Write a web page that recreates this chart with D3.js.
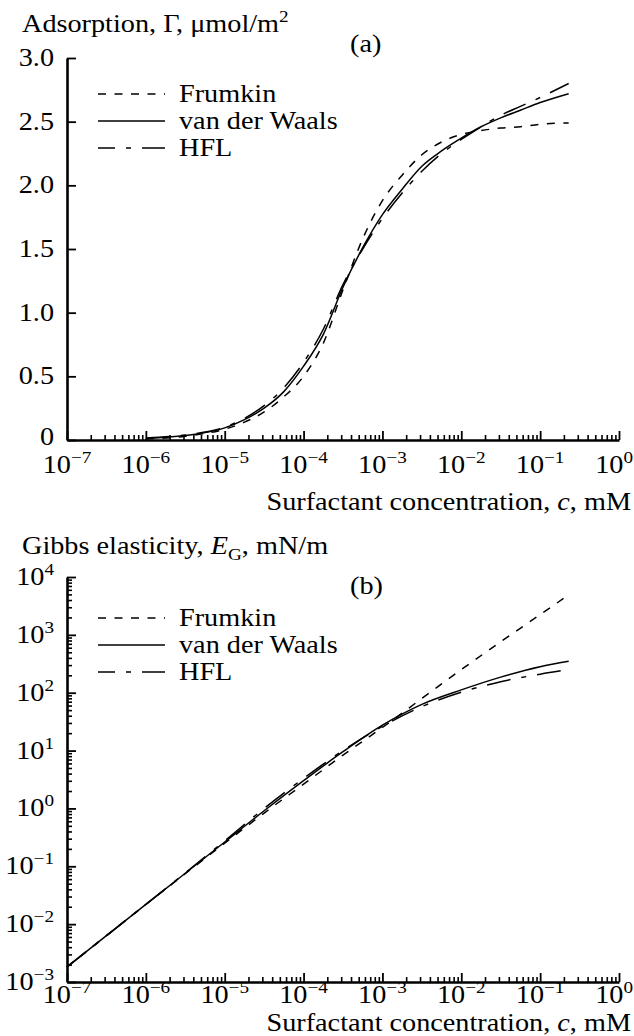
<!DOCTYPE html>
<html>
<head>
<meta charset="utf-8">
<script src="https://cdn.jsdelivr.net/npm/d3@7"></script>
<style>
  body { margin: 0; background: #fff; }
  svg { display: block; }
  text { font-family: "Liberation Serif", "Times New Roman", serif; fill: #000; }
</style>
</head>
<body>
<svg id="chart" width="634" height="1036"></svg>
<script>
// ---- Panel (a): adsorption isotherms ----
const concA = [1e-6, 3.16e-6, 1e-5, 1.78e-5, 3.16e-5, 5.62e-5, 1e-4, 1.78e-4, 3.16e-4, 5.62e-4,
               1e-3, 1.78e-3, 3.16e-3, 5.62e-3, 1e-2, 1.78e-2, 3.16e-2, 5.62e-2, 0.1, 0.23];
const gammaFrumkin = [0.008, 0.03, 0.085, 0.14, 0.22, 0.34, 0.50, 0.76, 1.18, 1.58,
                      1.88, 2.08, 2.24, 2.34, 2.40, 2.43, 2.45, 2.46, 2.48, 2.49];
const gammaVdW     = [0.012, 0.035, 0.095, 0.16, 0.25, 0.38, 0.58, 0.83, 1.20, 1.51,
                      1.77, 1.97, 2.15, 2.27, 2.37, 2.46, 2.53, 2.59, 2.65, 2.72];
const gammaHFL     = [0.015, 0.04, 0.10, 0.17, 0.27, 0.41, 0.61, 0.87, 1.22, 1.50,
                      1.74, 1.94, 2.11, 2.25, 2.36, 2.46, 2.55, 2.62, 2.69, 2.80];
const gammaTicks = [0, 0.5, 1, 1.5, 2, 2.5, 3];
const gammaTickLabels = ["0", "0.5", "1.0", "1.5", "2.0", "2.5", "3.0"];

// ---- Panel (b): Gibbs elasticity ----
const concB = [1e-7, 1e-6, 1e-5, 3.16e-5, 1e-4, 3.16e-4, 1e-3, 3.16e-3, 1e-2, 3.16e-2, 0.1, 0.23];
const elastFrumkin = [1.82e-3, 0.0219, 0.251, 0.832, 2.63, 8.32, 25.1, 79.4, 251, 759, 2240, 4900];
const elastVdW     = [1.82e-3, 0.0219, 0.263, 0.912, 3.02, 9.55, 27.5, 63, 112, 186, 282, 350];
const elastHFL     = [1.82e-3, 0.0219, 0.275, 1.0, 3.31, 10, 26.3, 57.5, 102, 155, 209, 251];

// shared axis data
const concExponents = [-7, -6, -5, -4, -3, -2, -1, 0];
const elastExponents = [-3, -2, -1, 0, 1, 2, 3, 4];
const seriesNames = ["Frumkin", "van der Waals", "HFL"];
const seriesDash = ["8,8.5", null, "24,11,5,11"];
const legendDashOffset = [0, 0, 7];

const svg = d3.select("#chart");
const FS = 25;     // font size
const SX = 1.13;   // horizontal widening of the serif face

// text placed inside a horizontally widened group
function addText(parent, x, y, anchor) {
  return parent.append("g")
    .attr("transform", `translate(${x},${y}) scale(${SX},1)`)
    .append("text")
    .attr("font-size", FS)
    .attr("text-anchor", anchor || "start");
}

function supLabel(sel, base, exp) {
  sel.append("tspan").text(base);
  sel.append("tspan").attr("dy", -10).attr("font-size", 17).text(exp);
}

function drawPanel(opt) {
  const g = svg.append("g");
  const x = d3.scaleLog().domain([1e-7, 1]).range([67, 619]);
  const y = opt.y;
  const y0 = y.range()[0];

  // x axis: decades and in-between minor ticks, pointing inward
  const xMinor = [];
  concExponents.slice(0, -1).forEach(e => { for (let k = 2; k <= 9; k++) xMinor.push(k * Math.pow(10, e)); });
  g.append("g").attr("transform", `translate(0,${y0})`)
    .call(d3.axisBottom(x).tickValues(xMinor).tickSize(-5).tickFormat(""))
    .call(a => a.select(".domain").remove())
    .call(a => a.selectAll("line").attr("stroke-width", 1.6));
  g.append("g").attr("transform", `translate(0,${y0})`)
    .call(d3.axisBottom(x).tickValues(concExponents.map(e => Math.pow(10, e))).tickSize(-9).tickSizeOuter(0).tickFormat(""))
    .call(a => a.select(".domain").attr("stroke-width", 2.6))
    .call(a => a.selectAll("line").attr("stroke-width", 1.8));

  // y axis
  if (opt.yMinor) {
    g.append("g").attr("transform", "translate(67,0)")
      .call(d3.axisLeft(y).tickValues(opt.yMinor).tickSize(-5).tickFormat(""))
      .call(a => a.select(".domain").remove())
      .call(a => a.selectAll("line").attr("stroke-width", 1.6));
  }
  g.append("g").attr("transform", "translate(67,0)")
    .call(d3.axisLeft(y).tickValues(opt.yMajor).tickSize(-9).tickSizeOuter(0).tickFormat(""))
    .call(a => a.select(".domain").attr("stroke-width", 2.6))
    .call(a => a.selectAll("line").attr("stroke-width", 1.8));

  // y tick labels (the lowest one sits a little higher, clear of the x labels)
  opt.yMajor.forEach((v, i) => {
    const lift = i === 0 ? opt.firstYLabelLift : 0;
    opt.yLabel(addText(g, 54, y(v) + 8 - lift, "end"), i);
  });

  // x tick labels; the last one is kept inside the page
  concExponents.forEach((e, i) => {
    const last = i === concExponents.length - 1;
    const t = addText(g, last ? 633 : x(Math.pow(10, e)), y0 + opt.xLabelDy, last ? "end" : "middle");
    supLabel(t, "10", e < 0 ? "\u2212" + (-e) : String(e));
  });

  // x title
  const xt = addText(g, 631, y0 + opt.xTitleDy, "end");
  xt.append("tspan").text("Surfactant concentration, ");
  xt.append("tspan").attr("font-style", "italic").text("c");
  xt.append("tspan").text(", mM");

  // y title
  opt.yTitle(addText(g, 22, opt.yTitleY));

  // panel tag
  addText(g, 350, opt.tagY).text(opt.tag);

  // curves
  const line = d3.line().x(d => x(d[0])).y(d => y(d[1])).curve(d3.curveMonotoneX);
  opt.series.forEach((vals, i) => {
    g.append("path")
      .datum(opt.conc.map((c, j) => [c, vals[j]]))
      .attr("fill", "none").attr("stroke", "#000").attr("stroke-width", 1.5)
      .attr("stroke-dasharray", seriesDash[i])
      .attr("d", line);
  });

  // legend
  seriesNames.forEach((name, i) => {
    const ly = opt.legendY[i];
    g.append("line").attr("x1", 98).attr("x2", 165).attr("y1", ly).attr("y2", ly)
      .attr("stroke", "#000").attr("stroke-width", 1.6)
      .attr("stroke-dasharray", seriesDash[i])
      .attr("stroke-dashoffset", legendDashOffset[i]);
    addText(g, 179, ly + 8).text(name);
  });
}

// panel (a)
drawPanel({
  y: d3.scaleLinear().domain([0, 3]).range([440, 58]),
  yMajor: gammaTicks,
  yLabel: (t, i) => t.text(gammaTickLabels[i]),
  firstYLabelLift: 3,
  xLabelDy: 33, xTitleDy: 70,
  yTitleY: 32,
  yTitle: t => { t.append("tspan").text("Adsorption, \u0393, \u03bcmol/m"); t.append("tspan").attr("dy", -10).attr("font-size", 17).text("2"); },
  tag: "(a)", tagY: 52,
  conc: concA, series: [gammaFrumkin, gammaVdW, gammaHFL],
  legendY: [94, 121, 148]
});

// panel (b)
const elastMinor = [];
elastExponents.slice(0, -1).forEach(e => { for (let k = 2; k <= 9; k++) elastMinor.push(k * Math.pow(10, e)); });
drawPanel({
  y: d3.scaleLog().domain([1e-3, 1e4]).range([982, 577]),
  yMajor: elastExponents.map(e => Math.pow(10, e)),
  yMinor: elastMinor,
  yLabel: (t, i) => { const e = elastExponents[i]; supLabel(t, "10", e < 0 ? "\u2212" + (-e) : String(e)); },
  firstYLabelLift: 0,
  xLabelDy: 21, xTitleDy: 49,
  yTitleY: 554,
  yTitle: t => {
    t.append("tspan").text("Gibbs elasticity, ");
    t.append("tspan").attr("font-style", "italic").text("E");
    t.append("tspan").attr("dy", 6).attr("font-size", 17).text("G");
    t.append("tspan").attr("dy", -6).text(", mN/m");
  },
  tag: "(b)", tagY: 594,
  conc: concB, series: [elastFrumkin, elastVdW, elastHFL],
  legendY: [618, 645, 672]
});
</script>
</body>
</html>
